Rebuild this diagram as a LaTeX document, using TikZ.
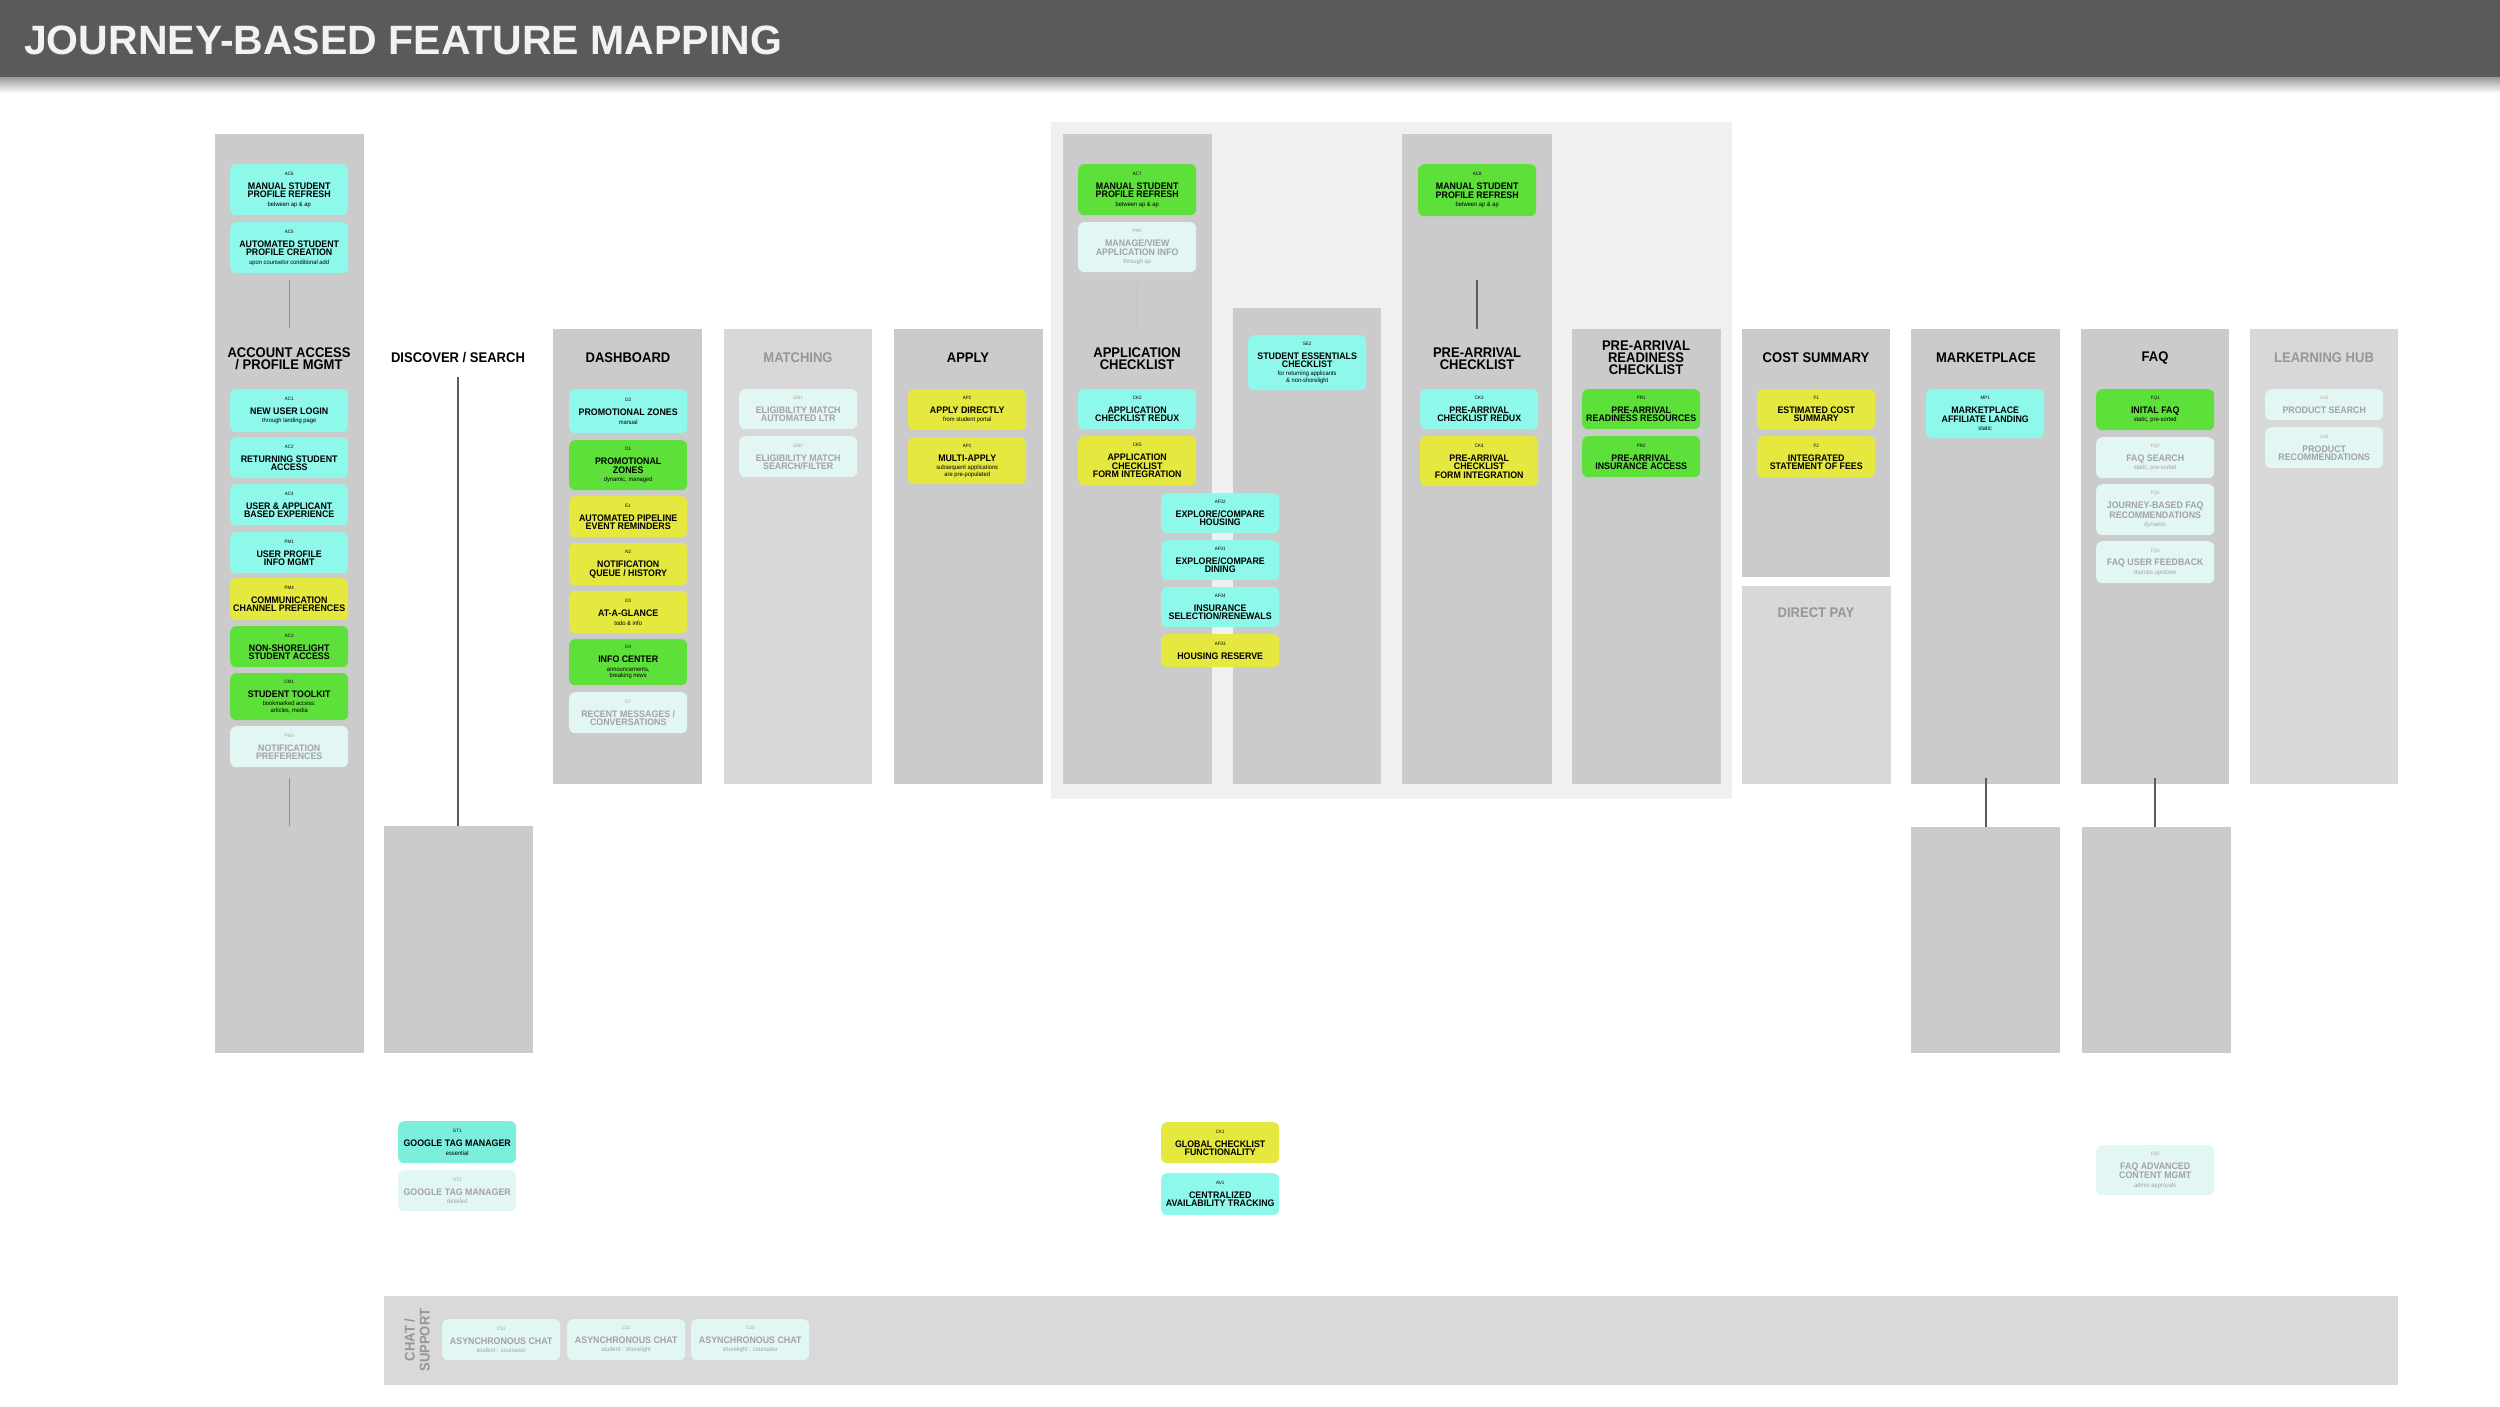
\documentclass[tikz,border=0pt]{standalone}
\usepackage{fontspec}
\setmainfont{Liberation Sans}
\newfontfamily\cf[FakeStretch=0.93]{Liberation Sans}
\definecolor{hdr}{HTML}{5A5A5A}
\definecolor{colgray}{HTML}{CBCBCB}
\definecolor{collight}{HTML}{D8D8D8}
\definecolor{grpbg}{HTML}{F0F0F0}
\definecolor{chatgray}{HTML}{D9D9D9}
\definecolor{cyancard}{HTML}{8EF8EA}
\definecolor{gtmcard}{HTML}{7CEEDC}
\definecolor{greencard}{HTML}{5EE03A}
\definecolor{yellowcard}{HTML}{E5E83E}
\definecolor{palecard}{HTML}{E2F6F3}
\definecolor{paletext}{HTML}{A3A3A3}
\definecolor{graytitle}{HTML}{969696}
\definecolor{linegray}{HTML}{5C5C5C}
\definecolor{faintline}{HTML}{BFBFBF}
\definecolor{titlewhite}{HTML}{F2F2F2}
\newcommand\cid[1]{{\fontsize{4.8}{5}\selectfont\mdseries #1}\\[5.5pt]}
\newcommand\csub[1]{{\fontsize{6.2}{6.5}\selectfont\mdseries #1}}
\newcommand\crd[6]{\node[#1,minimum height=#5pt,anchor=north west] (#2) at (#3,#4) {#6};}
\tikzset{
  card/.style={rounded corners=6pt, minimum width=118pt, inner sep=2pt, align=center,
    font=\cf\bfseries\fontsize{9.5}{8.4}\selectfont, text=black},
  cy/.style={card, fill=cyancard},
  gt/.style={card, fill=gtmcard},
  gr/.style={card, fill=greencard},
  ye/.style={card, fill=yellowcard},
  pa/.style={card, fill=palecard, text=paletext},
  colhead/.style={font=\cf\bfseries\fontsize{14}{12}\selectfont, align=center, text=black, inner sep=0pt},
  grayhead/.style={colhead, text=graytitle},
  link/.style={draw=linegray, line width=1.5pt},
  thinlink/.style={draw=black!45, line width=1pt},
}
\begin{document}
\begin{tikzpicture}[x=1pt,y=-1pt]
\useasboundingbox (0,0) rectangle (2500,1406);
\fill[white] (0,0) rectangle (2500,1406);
% header
\shade[top color=black!40, bottom color=white] (0,77) rectangle (2500,93);
\fill[hdr] (0,0) rectangle (2500,77);
\node[anchor=base west, inner sep=0pt, text=titlewhite, font=\bfseries\fontsize{41}{41}\selectfont] (title) at (24,54) {JOURNEY-BASED FEATURE MAPPING};
% group background
\fill[grpbg] (1051,122) rectangle (1732,799);
% columns
\fill[colgray] (215,134) rectangle (364,1053);
\fill[colgray] (384,826) rectangle (533,1053);
\fill[colgray] (553,329) rectangle (702,784);
\fill[collight] (724,329) rectangle (872,784);
\fill[colgray] (894,329) rectangle (1043,784);
\fill[colgray] (1063,134) rectangle (1212,784);
\fill[colgray] (1233,308) rectangle (1381,784);
\fill[colgray] (1402,134) rectangle (1552,784);
\fill[colgray] (1572,329) rectangle (1721,784);
\fill[colgray] (1742,329) rectangle (1890,577);
\fill[collight] (1742,586) rectangle (1891,784);
\fill[colgray] (1911,329) rectangle (2060,784);
\fill[colgray] (1911,827) rectangle (2060,1053);
\fill[colgray] (2081,329) rectangle (2229,784);
\fill[colgray] (2082,827) rectangle (2231,1053);
\fill[collight] (2250,329) rectangle (2398,784);
\fill[chatgray] (384,1296) rectangle (2398,1385);
% column headers
\node[colhead] (hAcc) at (289,358.5) {ACCOUNT ACCESS\\/ PROFILE MGMT};
\node[colhead] (hDis) at (458,357.5) {DISCOVER / SEARCH};
\node[colhead] (hDash) at (628,357.5) {DASHBOARD};
\node[grayhead] (hMatch) at (798,357.5) {MATCHING};
\node[colhead] (hApply) at (968,357.5) {APPLY};
\node[colhead] (hApp) at (1137,358.5) {APPLICATION\\CHECKLIST};
\node[colhead] (hPre) at (1477,358.5) {PRE-ARRIVAL\\CHECKLIST};
\node[colhead] (hReady) at (1646,357.5) {PRE-ARRIVAL\\READINESS\\CHECKLIST};
\node[colhead] (hCost) at (1816,357.5) {COST SUMMARY};
\node[grayhead] (hPay) at (1816,612.5) {DIRECT PAY};
\node[colhead] (hMkt) at (1986,357.5) {MARKETPLACE};
\node[colhead] (hFaq) at (2155,357.5) {FAQ};
\node[grayhead] (hHub) at (2324,357.5) {LEARNING HUB};
\node[grayhead, rotate=90, font=\cf\bfseries\fontsize{14}{15}\selectfont] (hChat) at (417,1340) {CHAT /\\SUPPORT};
% account access
\crd{cy}{ac6}{230}{164}{51}{\cid{AC6}MANUAL STUDENT\\PROFILE REFRESH\\\csub{between ap \& ap}}
\crd{cy}{ac5}{230}{222}{51}{\cid{AC5}AUTOMATED STUDENT\\PROFILE CREATION\\\csub{upon counselor conditional add}}
\crd{cy}{ac1}{230}{389}{43}{\cid{AC1}NEW USER LOGIN\\\csub{through landing page}}
\crd{cy}{ac2}{230}{437}{41}{\cid{AC2}RETURNING STUDENT\\ACCESS}
\crd{cy}{ac4}{230}{484}{41}{\cid{AC4}USER \& APPLICANT\\BASED EXPERIENCE}
\crd{cy}{pm1}{230}{532}{41}{\cid{PM1}USER PROFILE\\INFO MGMT}
\crd{ye}{pm4}{230}{578}{42}{\cid{PM4}COMMUNICATION\\CHANNEL PREFERENCES}
\crd{gr}{ac3}{230}{626}{41}{\cid{AC3}NON-SHORELIGHT\\STUDENT ACCESS}
\crd{gr}{cm1}{230}{673}{47}{\cid{CM1}STUDENT TOOLKIT\\\csub{bookmarked access:}\\[-2pt]\csub{articles, media}}
\crd{pa}{pm3}{230}{726}{41}{\cid{PM3}NOTIFICATION\\PREFERENCES}
% discover
\crd{gt}{gt1}{398}{1121}{42}{\cid{GT1}GOOGLE TAG MANAGER\\\csub{essential}}
\crd{pa}{gt2}{398}{1170}{41}{\cid{GT2}GOOGLE TAG MANAGER\\\csub{detailed}}
% dashboard
\crd{cy}{d2}{569}{389}{44}{\cid{D2}PROMOTIONAL ZONES\\\csub{manual}}
\crd{gr}{d1}{569}{440}{50}{\cid{D1}PROMOTIONAL\\ZONES\\\csub{dynamic, managed}}
\crd{ye}{e1}{569}{496}{41}{\cid{E1}AUTOMATED PIPELINE\\EVENT REMINDERS}
\crd{ye}{n2}{569}{543}{42}{\cid{N2}NOTIFICATION\\QUEUE / HISTORY}
\crd{ye}{d3}{569}{591}{42}{\cid{D3}AT-A-GLANCE\\\csub{todo \& info}}
\crd{gr}{d4}{569}{639}{46}{\cid{D4}INFO CENTER\\\csub{announcements,}\\[-2pt]\csub{breaking news}}
\crd{pa}{d7}{569}{692}{41}{\cid{D7}RECENT MESSAGES /\\CONVERSATIONS}
% matching
\crd{pa}{em1}{739}{389}{40}{\cid{EM1}ELIGIBILITY MATCH\\AUTOMATED LTR}
\crd{pa}{em2}{739}{436}{41}{\cid{EM2}ELIGIBILITY MATCH\\SEARCH/FILTER}
% apply
\crd{ye}{ap2}{908}{389}{41}{\cid{AP2}APPLY DIRECTLY\\\csub{from student portal}}
\crd{ye}{ap1}{908}{437}{47}{\cid{AP1}MULTI-APPLY\\\csub{subsequent applications}\\[-2pt]\csub{are pre-populated}}
% application checklist
\crd{gr}{ac7}{1078}{164}{51}{\cid{AC7}MANUAL STUDENT\\PROFILE REFRESH\\\csub{between ap \& ap}}
\crd{pa}{pm5}{1078}{222}{50}{\cid{PM5}MANAGE/VIEW\\APPLICATION INFO\\\csub{through ap}}
\crd{cy}{ck2}{1078}{389}{40}{\cid{CK2}APPLICATION\\CHECKLIST REDUX}
\crd{ye}{ck5}{1078}{436}{49}{\cid{CK5}APPLICATION\\CHECKLIST\\FORM INTEGRATION}
% student essentials
\crd{cy}{se2}{1248}{335}{55}{\cid{SE2}STUDENT ESSENTIALS\\CHECKLIST\\\csub{for returning applicants}\\[-2pt]\csub{\& non-shorelight}}
% spanning cards
\crd{cy}{af2}{1161}{493}{40}{\cid{AF02}EXPLORE/COMPARE\\HOUSING}
\crd{cy}{af1}{1161}{540}{40}{\cid{AF01}EXPLORE/COMPARE\\DINING}
\crd{cy}{af4}{1161}{587}{40}{\cid{AF04}INSURANCE\\SELECTION/RENEWALS}
\crd{ye}{af3}{1161}{634}{33}{\cid{AF03}HOUSING RESERVE}
\crd{ye}{ck1}{1161}{1122}{41}{\cid{CK1}GLOBAL CHECKLIST\\FUNCTIONALITY}
\crd{cy}{av1}{1161}{1173}{42}{\cid{AV1}CENTRALIZED\\AVAILABILITY TRACKING}
% pre-arrival checklist
\crd{gr}{ac8}{1418}{164}{52}{\cid{AC8}MANUAL STUDENT\\PROFILE REFRESH\\\csub{between ap \& ap}}
\crd{cy}{ck3}{1420}{389}{40}{\cid{CK3}PRE-ARRIVAL\\CHECKLIST REDUX}
\crd{ye}{ck4}{1420}{436}{50}{\cid{CK4}PRE-ARRIVAL\\CHECKLIST\\FORM INTEGRATION}
% readiness
\crd{gr}{pr1}{1582}{389}{40}{\cid{PR1}PRE-ARRIVAL\\READINESS RESOURCES}
\crd{gr}{pr2}{1582}{436}{41}{\cid{PR2}PRE-ARRIVAL\\INSURANCE ACCESS}
% cost summary
\crd{ye}{f1}{1757}{389}{40}{\cid{F1}ESTIMATED COST\\SUMMARY}
\crd{ye}{f2}{1757}{436}{41}{\cid{F2}INTEGRATED\\STATEMENT OF FEES}
% marketplace
\crd{cy}{mp1}{1926}{389}{49}{\cid{MP1}MARKETPLACE\\AFFILIATE LANDING\\\csub{static}}
% faq
\crd{gr}{fq1}{2096}{389}{41}{\cid{FQ1}INITAL FAQ\\\csub{static, pre-sorted}}
\crd{pa}{fq2}{2096}{437}{41}{\cid{FQ2}FAQ SEARCH\\\csub{static, pre-sorted}}
\crd{pa}{fq4}{2096}{484}{51}{\cid{FQ4}JOURNEY-BASED FAQ\\RECOMMENDATIONS\\\csub{dynamic}}
\crd{pa}{fq3}{2096}{541}{42}{\cid{FQ3}FAQ USER FEEDBACK\\\csub{thumbs up/down}}
\crd{pa}{fq5}{2096}{1145}{50}{\cid{FQ5}FAQ ADVANCED\\CONTENT MGMT\\\csub{admin approvals}}
% learning hub
\crd{pa}{lh1}{2265}{389}{31}{\cid{LH1}PRODUCT SEARCH}
\crd{pa}{lh2}{2265}{427}{41}{\cid{LH2}PRODUCT\\RECOMMENDATIONS}
% chat / support
\crd{pa}{cs1}{442}{1319}{41}{\cid{CS1}ASYNCHRONOUS CHAT\\\csub{student : counselor}}
\crd{pa}{cs2}{567}{1319}{41}{\cid{CS2}ASYNCHRONOUS CHAT\\\csub{student : shorelight}}
\crd{pa}{cs3}{691}{1319}{41}{\cid{CS3}ASYNCHRONOUS CHAT\\\csub{shorelight : counselor}}
% connector endpoints
\coordinate (accTopA) at (289,280);
\coordinate (accTopB) at (289,328);
\coordinate (accBotA) at (289,778);
\coordinate (accBotB) at (289,826);
\coordinate (disA) at (458,377);
\coordinate (disB) at (458,826);
\coordinate (appA) at (1137,282);
\coordinate (appB) at (1137,327);
\coordinate (preA) at (1477,280);
\coordinate (preB) at (1477,329);
\coordinate (mktA) at (1986,778);
\coordinate (mktB) at (1986,827);
\coordinate (faqA) at (2155,778);
\coordinate (faqB) at (2155,827);
\draw[thinlink] (accTopA) -- (accTopB);
\draw[thinlink] (accBotA) -- (accBotB);
\draw[link] (disA) -- (disB);
\draw[draw=faintline, line width=1pt] (appA) -- (appB);
\draw[link] (preA) -- (preB);
\draw[link] (mktA) -- (mktB);
\draw[link] (faqA) -- (faqB);
\end{tikzpicture}
\end{document}
